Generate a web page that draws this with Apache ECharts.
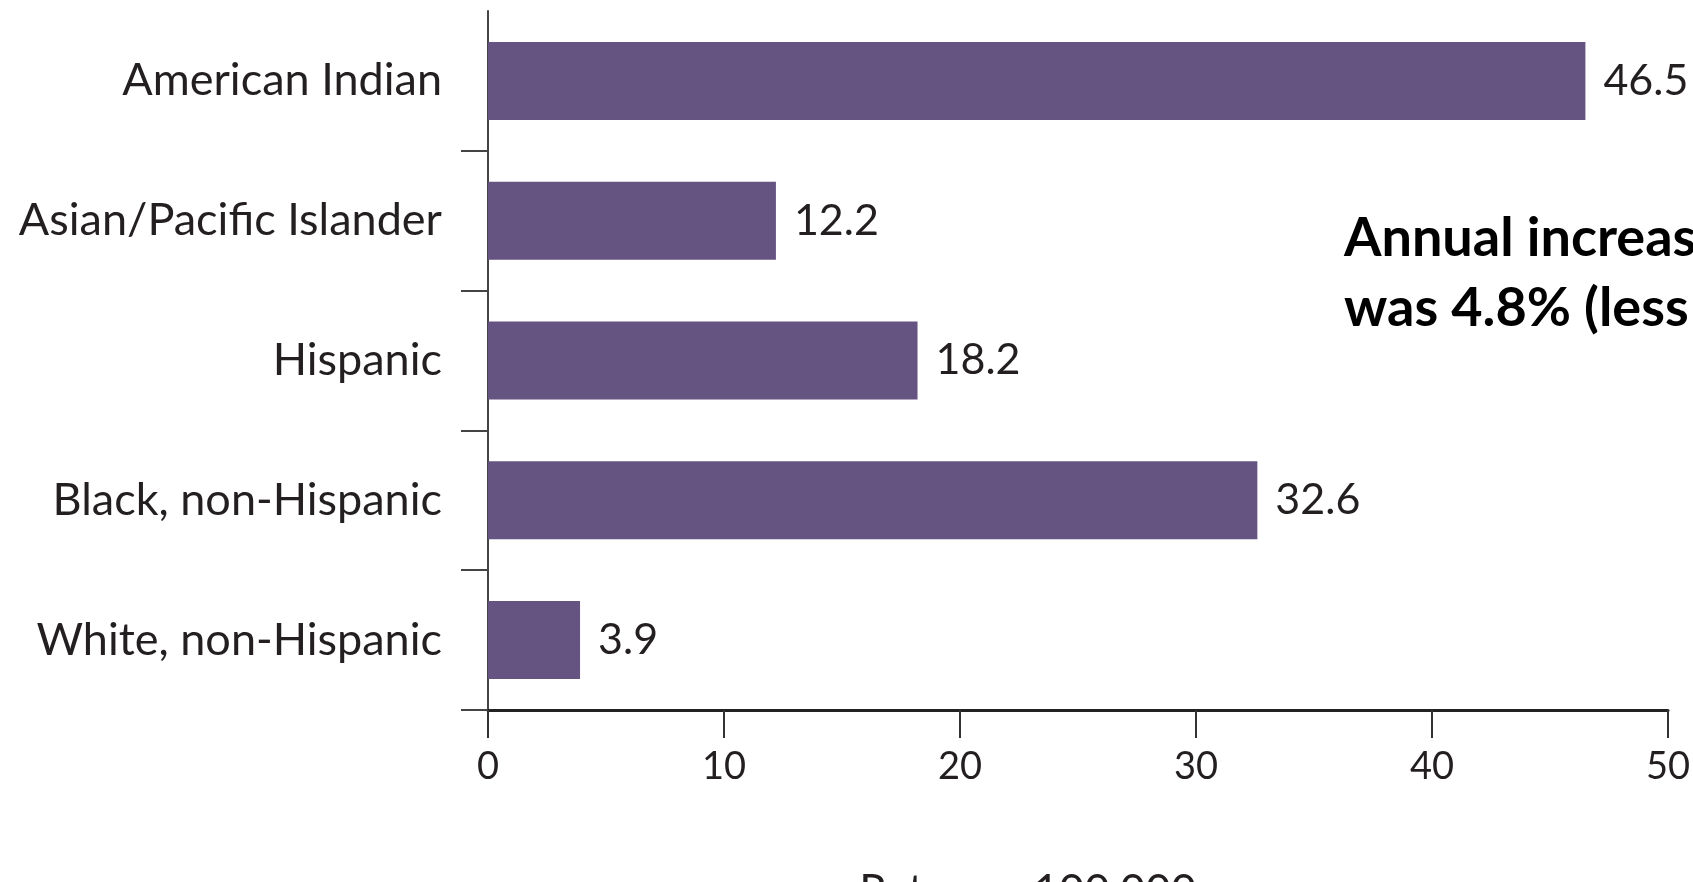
<!DOCTYPE html>
<html>
<head>
<meta charset="utf-8">
<script src="https://cdn.jsdelivr.net/npm/echarts@6/dist/echarts.min.js"></script>
<style>
html,body{margin:0;padding:0;background:#fff;}
#chart{width:1693px;height:882px;}
</style>
</head>
<body>
<div id="chart"></div>
<script>
// Data (bottom to top order for category axis)
const categories = ['White, non-Hispanic', 'Black, non-Hispanic', 'Hispanic', 'Asian/Pacific Islander', 'American Indian'];
const rates = [3.9, 32.6, 18.2, 12.2, 46.5];
const xAxisName = 'Rate per 100,000';
const noteLines = ['Annual increase', 'was 4.8% (less'];

const chart = echarts.init(document.getElementById('chart'));
const txt = '#231f20';
const font = 'Lato';
chart.setOption({
  animation: false,
  backgroundColor: '#ffffff',
  grid: { left: 488, right: 25, top: 11, bottom: 172, containLabel: false, outerBoundsMode: 'none' },
  xAxis: {
    type: 'value', min: 0, max: 50, interval: 10,
    name: xAxisName, nameLocation: 'middle', nameGap: 160,
    nameTextStyle: { color: txt, fontSize: 44, fontFamily: font, padding: [0, 100, 0, 0] },
    axisLine: { show: true, lineStyle: { color: '#222', width: 3 } },
    axisTick: { show: true, length: 28, lineStyle: { color: '#333', width: 2 } },
    axisLabel: { color: txt, fontSize: 38, fontFamily: font, margin: 38 },
    splitLine: { show: false }
  },
  yAxis: [{
    type: 'category', data: categories,
    axisLine: { show: true, lineStyle: { color: '#444', width: 2 } },
    axisTick: { show: false },
    axisLabel: { color: txt, fontSize: 45, fontFamily: font, margin: 46 }
  }, {
    // band boundaries (ticks between categories, none at the top)
    type: 'value', position: 'left', min: 0, max: categories.length,
    axisLine: { show: false },
    axisTick: { show: true, length: 27, customValues: categories.map((c, i) => i), lineStyle: { color: '#444', width: 2 } },
    axisLabel: { show: false },
    splitLine: { show: false }
  }],
  series: [{
    type: 'bar', data: rates, barWidth: 78, yAxisIndex: 0,
    itemStyle: { color: '#655381' },
    label: { show: true, position: 'right', distance: 18, color: txt, fontSize: 43, fontFamily: font }
  }],
  graphic: [{
    type: 'text', left: 1344, top: 204,
    style: { text: noteLines.join('\n'), font: 'bold 54px Lato', fill: '#000', lineHeight: 70 }
  }]
});
</script>
</body>
</html>
